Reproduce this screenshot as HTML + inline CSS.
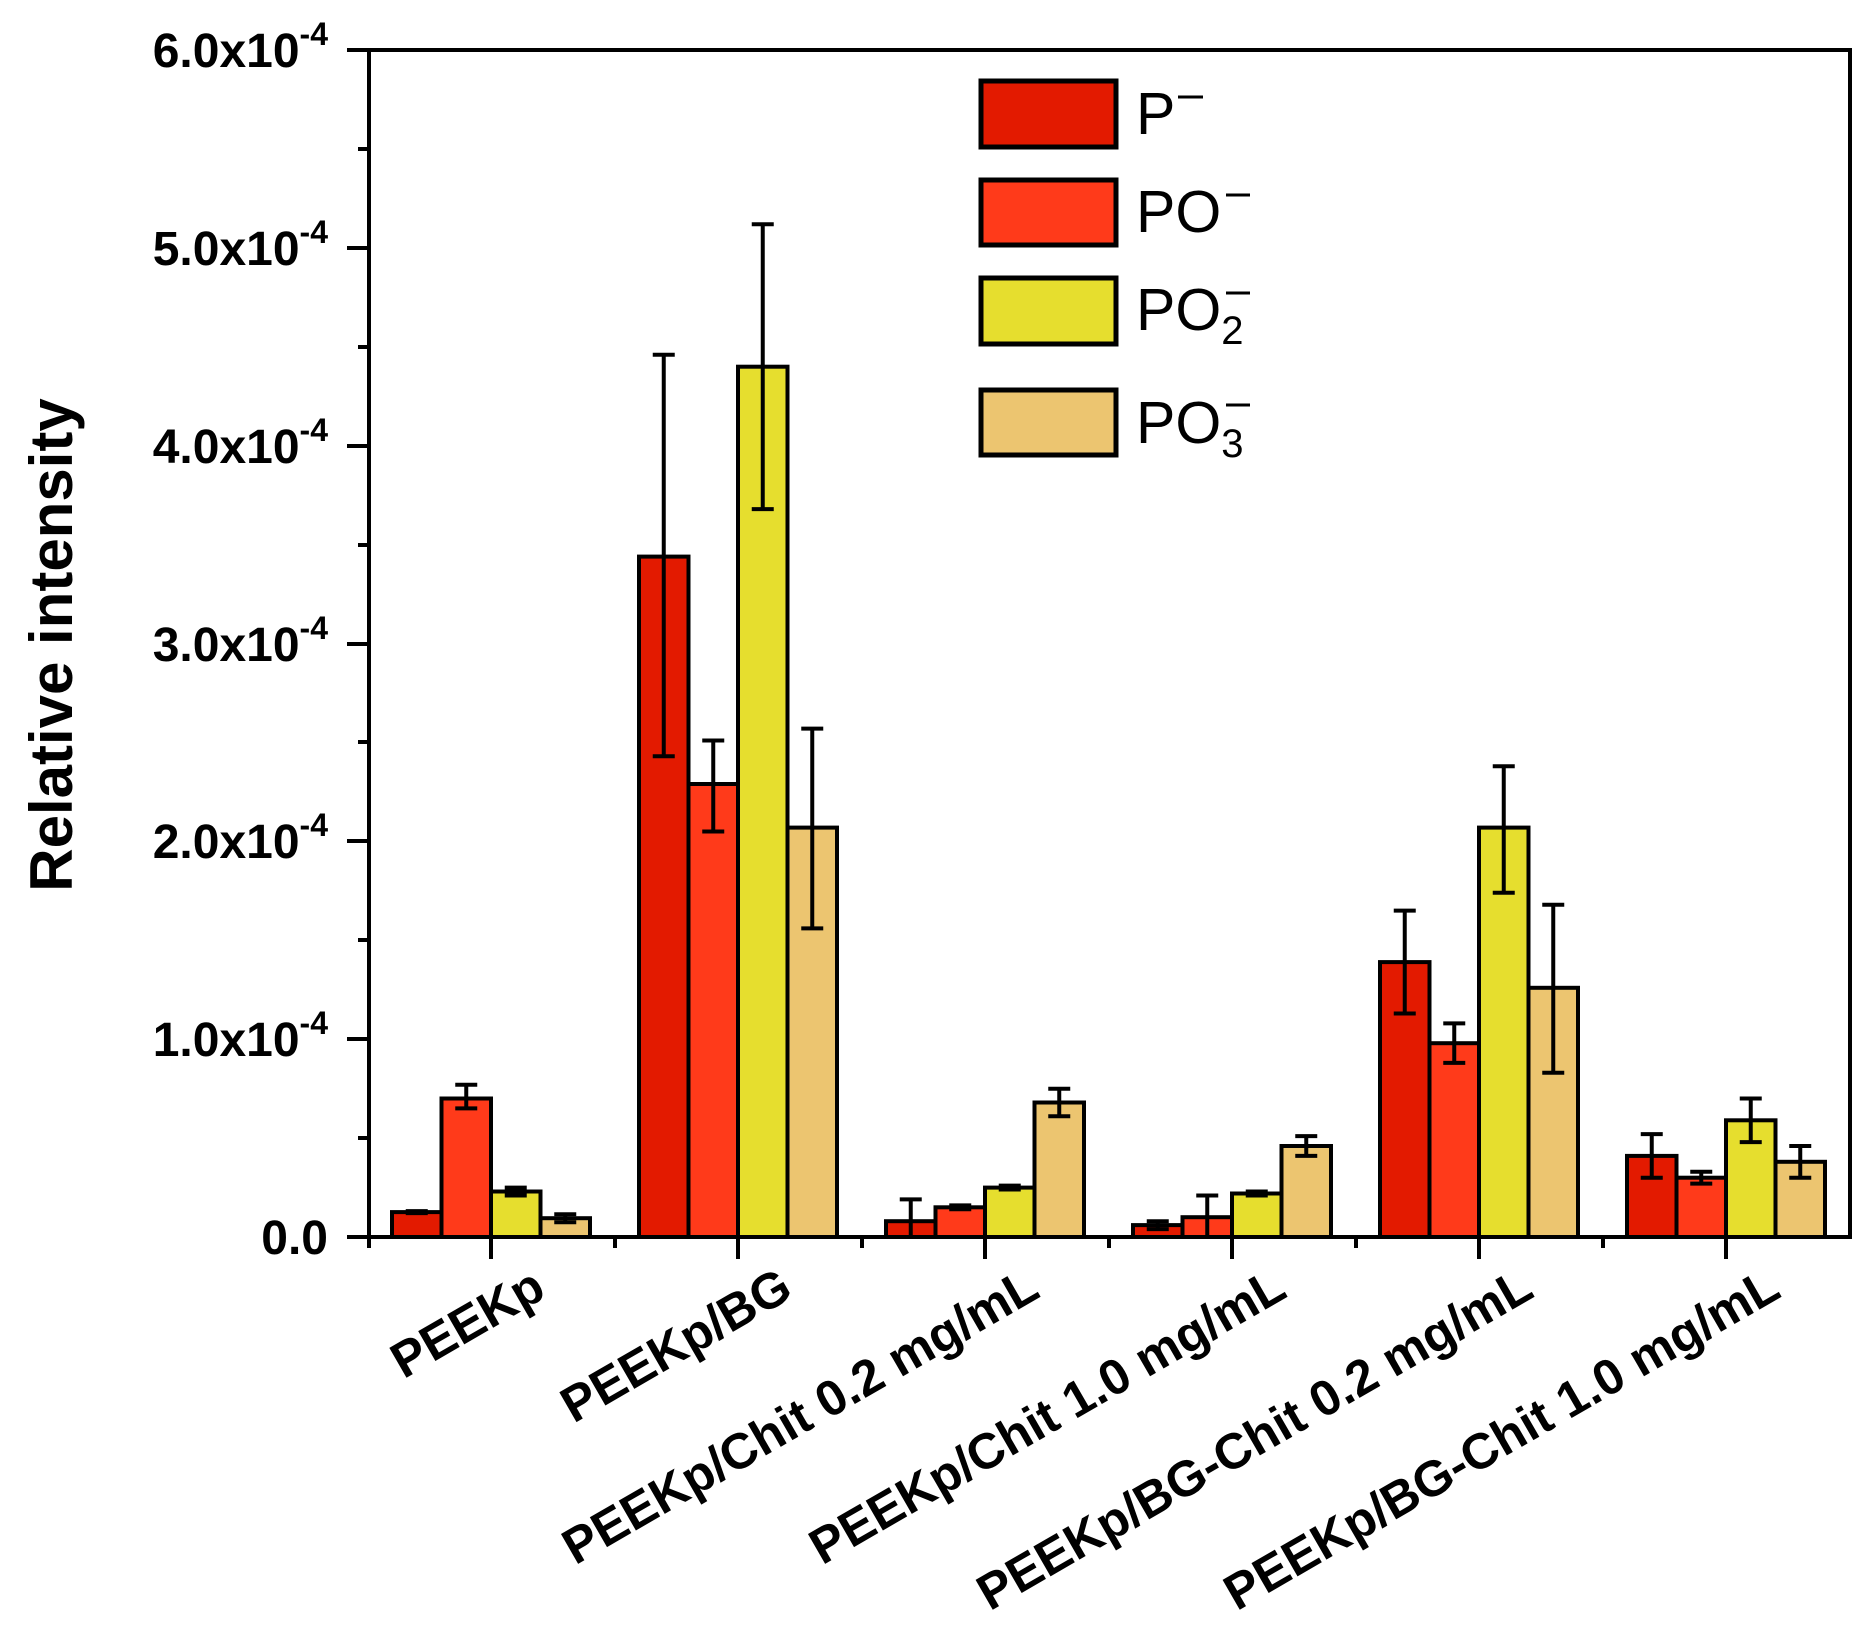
<!DOCTYPE html>
<html><head><meta charset="utf-8"><style>
html,body{margin:0;padding:0;background:#fff}
svg{display:block}
text{font-family:"Liberation Sans",Arial,sans-serif}
</style></head><body>
<svg width="1866" height="1630" viewBox="0 0 1866 1630" xmlns="http://www.w3.org/2000/svg">
<g stroke="#000" stroke-width="4">
<!-- group 1 -->
<rect x="392" y="1212.1" width="49.5" height="24.9" fill="#e31a00"/>
<rect x="441.5" y="1098.5" width="49.5" height="138.5" fill="#ff3a1a"/>
<rect x="491" y="1191.5" width="49.5" height="45.5" fill="#e6de2e"/>
<rect x="540.5" y="1218.2" width="49.5" height="18.8" fill="#ecc570"/>
<!-- group 2 -->
<rect x="639" y="556.6" width="49.5" height="680.4" fill="#e31a00"/>
<rect x="688.5" y="784" width="49.5" height="453" fill="#ff3a1a"/>
<rect x="738" y="366.7" width="49.5" height="870.3" fill="#e6de2e"/>
<rect x="787.5" y="827.6" width="49.5" height="409.4" fill="#ecc570"/>
<!-- group 3 -->
<rect x="886" y="1221.2" width="49.5" height="15.8" fill="#e31a00"/>
<rect x="935.5" y="1207.3" width="49.5" height="29.7" fill="#ff3a1a"/>
<rect x="985" y="1187.6" width="49.5" height="49.4" fill="#e6de2e"/>
<rect x="1034.5" y="1102.5" width="49.5" height="134.5" fill="#ecc570"/>
<!-- group 4 -->
<rect x="1133" y="1225.1" width="49.5" height="11.9" fill="#e31a00"/>
<rect x="1182.5" y="1217.2" width="49.5" height="19.8" fill="#ff3a1a"/>
<rect x="1232" y="1193.5" width="49.5" height="43.5" fill="#e6de2e"/>
<rect x="1281.5" y="1146" width="49.5" height="91" fill="#ecc570"/>
<!-- group 5 -->
<rect x="1380" y="962.1" width="49.5" height="274.9" fill="#e31a00"/>
<rect x="1429.5" y="1043.2" width="49.5" height="193.8" fill="#ff3a1a"/>
<rect x="1479" y="827.6" width="49.5" height="409.4" fill="#e6de2e"/>
<rect x="1528.5" y="987.8" width="49.5" height="249.2" fill="#ecc570"/>
<!-- group 6 -->
<rect x="1627" y="1155.9" width="49.5" height="81.1" fill="#e31a00"/>
<rect x="1676.5" y="1177.7" width="49.5" height="59.3" fill="#ff3a1a"/>
<rect x="1726" y="1120.3" width="49.5" height="116.7" fill="#e6de2e"/>
<rect x="1775.5" y="1161.8" width="49.5" height="75.2" fill="#ecc570"/>
</g>
<g stroke="#000" stroke-width="4" fill="none">
<path d="M405.75 1211.1H427.75M416.75 1211.1V1213.1M405.75 1213.1H427.75"/>
<path d="M455.25 1084.7H477.25M466.25 1084.7V1108.4M455.25 1108.4H477.25"/>
<path d="M504.75 1187.6H526.75M515.75 1187.6V1195.5M504.75 1195.5H526.75"/>
<path d="M554.25 1214.3H576.25M565.25 1214.3V1222.2M554.25 1222.2H576.25"/>

<path d="M652.75 354.8H674.75M663.75 354.8V756.3M652.75 756.3H674.75"/>
<path d="M702.25 740.5H724.25M713.25 740.5V831.5M702.25 831.5H724.25"/>
<path d="M751.75 224.3H773.75M762.75 224.3V509.1M751.75 509.1H773.75"/>
<path d="M801.25 728.6H823.25M812.25 728.6V928.4M801.25 928.4H823.25"/>

<path d="M899.75 1199.4H921.75M910.75 1199.4V1237"/>
<path d="M949.25 1205.4H971.25M960.25 1205.4V1209.3M949.25 1209.3H971.25"/>
<path d="M998.75 1185.6H1020.75M1009.75 1185.6V1189.5M998.75 1189.5H1020.75"/>
<path d="M1048.25 1088.7H1070.25M1059.25 1088.7V1116.3M1048.25 1116.3H1070.25"/>

<path d="M1146.75 1221.2H1168.75M1157.75 1221.2V1229.1M1146.75 1229.1H1168.75"/>
<path d="M1196.25 1195.5H1218.25M1207.25 1195.5V1237"/>
<path d="M1245.75 1191.5H1267.75M1256.75 1191.5V1195.5M1245.75 1195.5H1267.75"/>
<path d="M1295.25 1136.1H1317.25M1306.25 1136.1V1155.9M1295.25 1155.9H1317.25"/>

<path d="M1393.75 910.6H1415.75M1404.75 910.6V1013.5M1393.75 1013.5H1415.75"/>
<path d="M1443.25 1023.4H1465.25M1454.25 1023.4V1062.9M1443.25 1062.9H1465.25"/>
<path d="M1492.75 766.2H1514.75M1503.75 766.2V892.8M1492.75 892.8H1514.75"/>
<path d="M1542.25 904.7H1564.25M1553.25 904.7V1072.8M1542.25 1072.8H1564.25"/>

<path d="M1640.75 1134.1H1662.75M1651.75 1134.1V1177.7M1640.75 1177.7H1662.75"/>
<path d="M1690.25 1171.7H1712.25M1701.25 1171.7V1183.6M1690.25 1183.6H1712.25"/>
<path d="M1739.75 1098.5H1761.75M1750.75 1098.5V1142.1M1739.75 1142.1H1761.75"/>
<path d="M1789.25 1146H1811.25M1800.25 1146V1177.7M1789.25 1177.7H1811.25"/>
</g>
<!-- axes frame -->
<rect x="369" y="50" width="1481" height="1187" fill="none" stroke="#000" stroke-width="4"/>
<g stroke="#000" stroke-width="4">
<line x1="347" y1="1237" x2="369" y2="1237"/><line x1="358" y1="1138" x2="369" y2="1138"/>
<line x1="347" y1="1039" x2="369" y2="1039"/><line x1="358" y1="940" x2="369" y2="940"/>
<line x1="347" y1="841" x2="369" y2="841"/><line x1="358" y1="742" x2="369" y2="742"/>
<line x1="347" y1="644" x2="369" y2="644"/><line x1="358" y1="545" x2="369" y2="545"/>
<line x1="347" y1="446" x2="369" y2="446"/><line x1="358" y1="347" x2="369" y2="347"/>
<line x1="347" y1="248" x2="369" y2="248"/><line x1="358" y1="149" x2="369" y2="149"/>
<line x1="347" y1="50" x2="369" y2="50"/>
<line x1="491" y1="1237" x2="491" y2="1259"/><line x1="738" y1="1237" x2="738" y2="1259"/>
<line x1="985" y1="1237" x2="985" y2="1259"/><line x1="1232" y1="1237" x2="1232" y2="1259"/>
<line x1="1479" y1="1237" x2="1479" y2="1259"/><line x1="1726" y1="1237" x2="1726" y2="1259"/>
<line x1="369" y1="1237" x2="369" y2="1248"/><line x1="615" y1="1237" x2="615" y2="1248"/>
<line x1="862" y1="1237" x2="862" y2="1248"/><line x1="1109" y1="1237" x2="1109" y2="1248"/>
<line x1="1356" y1="1237" x2="1356" y2="1248"/><line x1="1603" y1="1237" x2="1603" y2="1248"/>
</g>
<g font-size="48" font-weight="bold" text-anchor="end">
<text x="328" y="1254">0.0</text>
<text x="328" y="1056">1.0x10<tspan font-size="32" dy="-22">-4</tspan></text>
<text x="328" y="858">2.0x10<tspan font-size="32" dy="-22">-4</tspan></text>
<text x="328" y="661">3.0x10<tspan font-size="32" dy="-22">-4</tspan></text>
<text x="328" y="463">4.0x10<tspan font-size="32" dy="-22">-4</tspan></text>
<text x="328" y="265">5.0x10<tspan font-size="32" dy="-22">-4</tspan></text>
<text x="328" y="67">6.0x10<tspan font-size="32" dy="-22">-4</tspan></text>
</g>
<text transform="translate(72,645) rotate(-90)" font-size="60" font-weight="bold" text-anchor="middle">Relative intensity</text>
<g font-size="50" font-weight="bold" text-anchor="end">
<text transform="translate(548,1296) rotate(-30)">PEEKp</text>
<text transform="translate(795,1296) rotate(-30)">PEEKp/BG</text>
<text transform="translate(1042,1296) rotate(-30)">PEEKp/Chit 0.2 mg/mL</text>
<text transform="translate(1289,1296) rotate(-30)">PEEKp/Chit 1.0 mg/mL</text>
<text transform="translate(1536,1296) rotate(-30)">PEEKp/BG-Chit 0.2 mg/mL</text>
<text transform="translate(1783,1296) rotate(-30)">PEEKp/BG-Chit 1.0 mg/mL</text>
</g>
<!-- legend -->
<g stroke="#000" stroke-width="5">
<rect x="981" y="81" width="135" height="66" fill="#e31a00"/>
<rect x="981" y="180" width="135" height="65" fill="#ff3a1a"/>
<rect x="981" y="278" width="135" height="66" fill="#e6de2e"/>
<rect x="981" y="390" width="135" height="65" fill="#ecc570"/>
</g>
<g font-size="59">
<text x="1136" y="134">P</text>
<text x="1136" y="232">PO</text>
<text x="1136" y="330">PO<tspan font-size="40" dy="14">2</tspan></text>
<text x="1136" y="443">PO<tspan font-size="40" dy="14">3</tspan></text>
</g>
<g stroke="#000" stroke-width="3">
<line x1="1178" y1="97" x2="1203" y2="97"/>
<line x1="1226" y1="195" x2="1250" y2="195"/>
<line x1="1226" y1="293" x2="1250" y2="293"/>
<line x1="1226" y1="405" x2="1250" y2="405"/>
</g>
</svg>
</body></html>
